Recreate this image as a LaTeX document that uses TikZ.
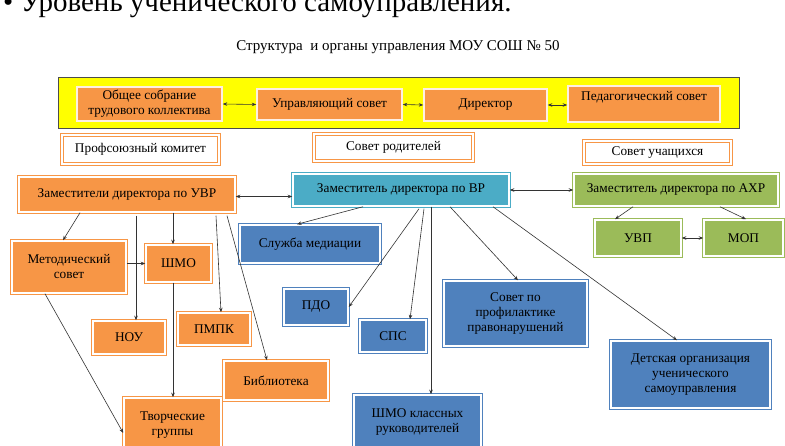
\documentclass[tikz,border=0pt]{standalone}
\usepackage{fontspec}
\setmainfont{Liberation Serif}
\usetikzlibrary{arrows.meta,calc}
\definecolor{ornge}{HTML}{F79646}
\definecolor{blu}{HTML}{4F81BD}
\definecolor{teal2}{HTML}{4BACC6}
\definecolor{grn}{HTML}{9BBB59}
\definecolor{ylw}{HTML}{FFFF00}
\definecolor{lnc}{HTML}{333333}
\begin{document}
\begin{tikzpicture}[x=1pt,y=-1pt,
  txt/.style={font=\fontsize{13.3}{15}\selectfont, text=black, align=center, inner sep=1pt},
  topbox/.style={txt, fill=ornge, draw=white!85!ornge, line width=1.5pt},
  dbox/.style={txt, fill=#1, draw=#1, double=white, double distance=1.1pt, line width=1.5pt},
  wbox/.style={txt, fill=white, draw=ornge, double=white, double distance=1.1pt, line width=1.5pt},
  arr/.style={draw=lnc, line width=0.6pt, -{Stealth[length=4.5pt,width=3.5pt]}},
  darr/.style={draw=lnc, line width=0.6pt, {Stealth[length=4.5pt,width=3.5pt]}-{Stealth[length=4.5pt,width=3.5pt]}},
  ln/.style={draw=lnc, line width=0.6pt}
]
\useasboundingbox (0,0) rectangle (785,446);
\clip (0,0) rectangle (785,446);
\fill[white] (0,0) rectangle (785,446);

\node[anchor=base west, inner sep=0pt, font=\fontsize{29}{31}\selectfont] (head) at (3,12) {• Уровень ученического самоуправления.};
\node[font=\fontsize{15}{17}\selectfont, inner sep=0pt] (title) at (398,47) {Структура\ \ и органы управления МОУ СОШ № 50};

\node[draw=black!70, line width=0.8pt, fill=ylw, minimum width=681pt, minimum height=51pt, inner sep=0pt] (band) at (398.5,102.5) {};

\node[topbox, minimum width=145pt, minimum height=34pt] (obsh) at (149.5,104) {Общее собрание\\трудового коллектива};
\node[topbox, minimum width=145pt, minimum height=31pt] (upr) at (329.5,104.5) {Управляющий совет};
\node[topbox, minimum width=123pt, minimum height=32pt] (dir) at (485.5,105) {Директор};
\node[topbox, minimum width=152pt, minimum height=36pt] (ped) at (644,104) {Педагогический совет\\[2pt]\mbox{}};

\node[wbox, minimum width=157pt, minimum height=29pt] (prof) at (140.5,149.5) {Профсоюзный комитет};
\node[wbox, minimum width=159pt, minimum height=27pt] (rod) at (393.5,147.5) {Совет родителей};
\node[wbox, minimum width=147pt, minimum height=23pt] (uch) at (657.5,152.5) {Совет учащихся};

\node[dbox=ornge, minimum width=216pt, minimum height=35pt] (uvr) at (127,194.5) {Заместители директора по УВР};
\node[dbox=teal2, minimum width=216pt, minimum height=32pt] (vr) at (401,190) {Заместитель директора по ВР};
\node[dbox=grn, minimum width=204pt, minimum height=32pt] (ahr) at (676,190) {Заместитель директора по АХР};
\node[dbox=grn, minimum width=86pt, minimum height=36pt] (uvp) at (638,238) {УВП};
\node[dbox=grn, minimum width=79pt, minimum height=36pt] (mop) at (743.5,238) {МОП};

\node[dbox=ornge, minimum width=114pt, minimum height=52pt] (met) at (69,267) {Методический\\совет};
\node[dbox=ornge, minimum width=65pt, minimum height=37pt] (shmo) at (178.5,263.5) {ШМО};
\node[dbox=ornge, minimum width=72pt, minimum height=33pt] (nou) at (129,337.5) {НОУ};
\node[dbox=ornge, minimum width=72pt, minimum height=32pt] (pmpk) at (214,329) {ПМПК};
\node[dbox=ornge, minimum width=104pt, minimum height=39pt] (bib) at (276,380.5) {Библиотека};
\node[dbox=ornge, minimum width=97pt, minimum height=54pt] (tvor) at (172.5,425) {Творческие\\группы};

\node[dbox=blu, minimum width=140pt, minimum height=38pt] (med) at (310,244) {Служба медиации};
\node[dbox=blu, minimum width=64pt, minimum height=36pt] (pdo) at (316,307) {ПДО};
\node[dbox=blu, minimum width=66pt, minimum height=32pt] (sps) at (393,336) {СПС};
\node[dbox=blu, minimum width=143pt, minimum height=65pt] (prav) at (515.5,313.5) {Совет по\\профилактике\\правонарушений};
\node[dbox=blu, minimum width=127pt, minimum height=55pt] (shmokl) at (417.5,422.5) {ШМО классных\\руководителей};
\node[dbox=blu, minimum width=159pt, minimum height=67pt] (det) at (690.5,374.5) {Детская организация\\ученического\\самоуправления};

% top row
\draw[darr] (obsh.east) -- (upr.west);
\draw[darr] (upr.east) -- (dir.west);
\draw[darr] (dir.east) -- (ped.west |- dir.east);
% row 3
\draw[darr] ([yshift=-2pt]uvr.east) -- ([yshift=-2pt]uvr.east -| vr.west);
\draw[darr] (vr.east) -- (vr.east -| ahr.west);
\draw[darr] (uvp.east) -- (mop.west);
\draw[arr] ([xshift=-43pt]ahr.south) -- ([xshift=-23pt]uvp.north);
\draw[arr] ([xshift=44pt]ahr.south) -- ([xshift=2.5pt]mop.north);
% UVR
\draw[arr] ([xshift=-47pt]uvr.south) -- ([xshift=-6pt]met.north);
\draw[arr] ([xshift=46pt]uvr.south) -- ([xshift=-5.5pt]shmo.north);
\draw[arr] ([xshift=9pt,yshift=-3pt]uvr.south) -- ([xshift=7pt]nou.north);
\draw[arr] ([xshift=89pt,yshift=-3pt]uvr.south) -- ([xshift=7pt]pmpk.north);
\draw[arr] ([xshift=100pt,yshift=-3pt]uvr.south) -- ([xshift=-9pt]bib.north);
\draw[arr] (met.east |- shmo.west) -- (shmo.west);
\draw[arr] ([xshift=-24pt]met.south) -- ([yshift=-8pt]tvor.west);
\draw[arr] ([xshift=-5.5pt]shmo.south) -- ([xshift=0.5pt]tvor.north);
% VR
\draw[arr] ([xshift=-38pt]vr.south) -- ([xshift=-13pt]med.north);
\draw[arr] ([xshift=18pt,yshift=-2pt]vr.south) -- (pdo.east);
\draw[arr] ([xshift=23pt,yshift=-2pt]vr.south) -- ([xshift=17pt]sps.north);
\draw[arr] ([xshift=30pt]vr.south) -- ([xshift=13.5pt]shmokl.north);
\draw[arr] ([xshift=49pt]vr.south) -- ([xshift=2.5pt]prav.north);
\draw[arr] ([xshift=92pt]vr.south) -- ([xshift=-13.5pt]det.north);
\end{tikzpicture}
\end{document}
